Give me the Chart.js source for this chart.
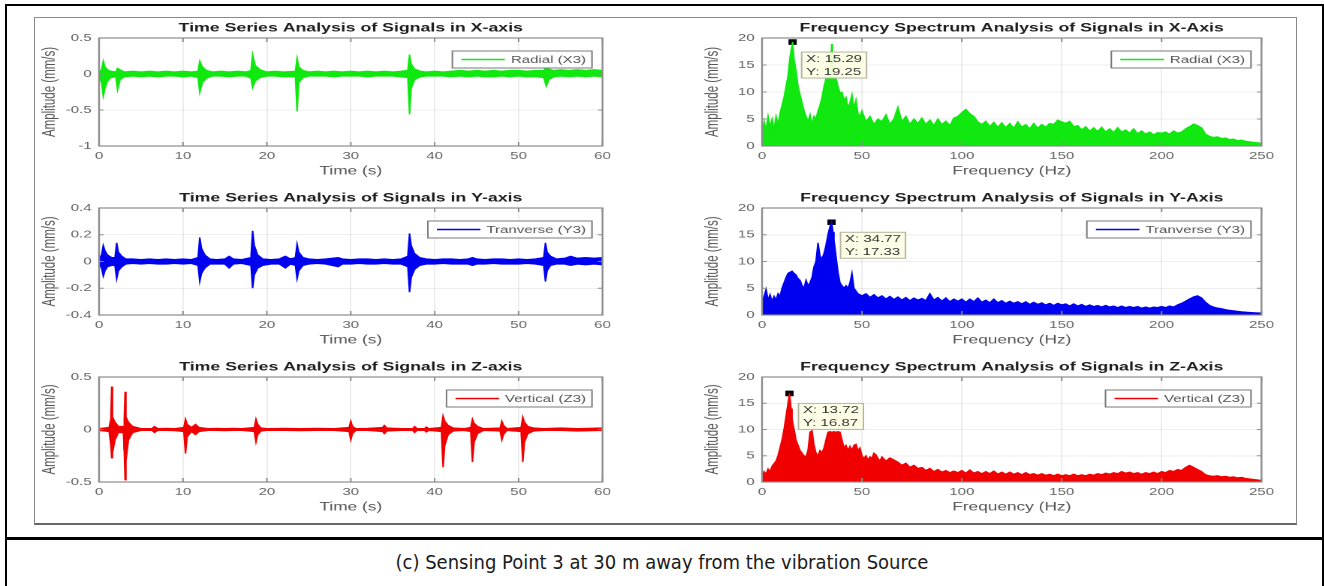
<!DOCTYPE html>
<html>
<head>
<meta charset="utf-8">
<script src="https://cdn.jsdelivr.net/npm/chart.js@4.4.1/dist/chart.umd.min.js"></script>
<style>
  html, body { margin: 0; padding: 0; background: #fff; }
  body { width: 1324px; height: 586px; position: relative; overflow: hidden; }
  .rule { position: absolute; background: #000; }
  #figure { position: absolute; left: 34px; top: 17px; width: 1261px; height: 505px;
            border: 1px solid #8a8a8a; border-bottom: 2px solid #666; }
  .panel { position: absolute; }
  #caption { position: absolute; left: 0; top: 550px; width: 1324px; text-align: center;
             font: 20px "Liberation Sans Narrow", "DejaVu Sans Condensed", sans-serif; color: #1a1a1a; }
</style>
</head>
<body>
<div class="rule" style="left:5px;top:4px;width:1319px;height:2px"></div>
<div class="rule" style="left:5px;top:4px;width:2px;height:582px"></div>
<div class="rule" style="left:1322px;top:4px;width:2px;height:582px"></div>
<div class="rule" style="left:5px;top:537px;width:1319px;height:3px"></div>
<div id="figure"></div>
<canvas id="tsX" class="panel"></canvas>
<canvas id="fsX" class="panel"></canvas>
<canvas id="tsY" class="panel"></canvas>
<canvas id="fsY" class="panel"></canvas>
<canvas id="tsZ" class="panel"></canvas>
<canvas id="fsZ" class="panel"></canvas>
<div id="caption">(c) Sensing Point 3 at 30 m away from the vibration Source</div>

<script>
// ============== Data ==============
// time series envelopes: [time s, max, min]
const radialTime = [
  [0, 0.03, -0.04], [0.3, 0.06, -0.12], [0.5, 0.18, -0.31], [0.7, 0.1, -0.2], [1.0, 0.06, -0.1],
  [1.4, 0.04, -0.05], [2.0, 0.03, -0.04], [2.2, 0.08, -0.22], [2.5, 0.06, -0.08], [3.0, 0.03, -0.04],
  [4, 0.04, -0.03], [5, 0.03, -0.04], [6, 0.04, -0.03], [7, 0.03, -0.04], [8, 0.04, -0.03],
  [9, 0.03, -0.03], [10, 0.04, -0.04], [11, 0.03, -0.03], [11.8, 0.04, -0.05], [12.0, 0.18, -0.26],
  [12.3, 0.1, -0.12], [12.8, 0.05, -0.06], [13.5, 0.03, -0.03], [14.5, 0.04, -0.03], [15.5, 0.03, -0.04],
  [16.5, 0.04, -0.03], [17.5, 0.03, -0.03], [18.1, 0.05, -0.06], [18.3, 0.27, -0.19], [18.6, 0.12, -0.1],
  [19.2, 0.06, -0.05], [20, 0.03, -0.03], [21, 0.04, -0.03], [22, 0.03, -0.04], [23.4, 0.04, -0.04],
  [23.6, 0.22, -0.52], [23.8, 0.1, -0.12], [24.3, 0.05, -0.05], [25, 0.03, -0.03], [26, 0.04, -0.03],
  [27, 0.03, -0.03], [28, 0.04, -0.04], [29, 0.03, -0.03], [30, 0.04, -0.03], [31, 0.03, -0.03],
  [32, 0.04, -0.04], [33, 0.03, -0.03], [34, 0.04, -0.03], [35, 0.03, -0.03], [36, 0.04, -0.04],
  [36.8, 0.05, -0.05], [37.0, 0.27, -0.56], [37.2, 0.14, -0.2], [37.6, 0.07, -0.08], [38.3, 0.04, -0.04],
  [39, 0.03, -0.03], [40, 0.04, -0.03], [41, 0.03, -0.03], [42, 0.04, -0.04], [43, 0.05, -0.03],
  [44, 0.04, -0.04], [45, 0.05, -0.03], [46, 0.04, -0.04], [47, 0.05, -0.04], [48, 0.04, -0.03],
  [49, 0.05, -0.04], [50, 0.05, -0.03], [51, 0.04, -0.04], [52, 0.05, -0.04], [53.0, 0.05, -0.05],
  [53.3, 0.1, -0.17], [53.6, 0.07, -0.08], [54.2, 0.05, -0.04], [55, 0.06, -0.03], [56, 0.05, -0.04],
  [57, 0.06, -0.03], [58, 0.05, -0.04], [59, 0.06, -0.03], [60, 0.05, -0.04]
];
const transverseTime = [
  [0, 0.02, -0.02], [0.3, 0.05, -0.05], [0.5, 0.12, -0.11], [0.7, 0.08, -0.07], [1.0, 0.05, -0.04],
  [1.5, 0.03, -0.03], [1.9, 0.03, -0.03], [2.1, 0.14, -0.13], [2.3, 0.07, -0.07], [2.7, 0.04, -0.04],
  [3.2, 0.02, -0.02], [4, 0.02, -0.015], [5, 0.015, -0.02], [6, 0.02, -0.015], [7, 0.015, -0.02],
  [8, 0.02, -0.02], [9, 0.015, -0.015], [10, 0.02, -0.02], [11, 0.015, -0.015], [11.8, 0.03, -0.03],
  [12.0, 0.18, -0.15], [12.2, 0.1, -0.09], [12.6, 0.05, -0.05], [13.2, 0.02, -0.02], [14, 0.015, -0.02],
  [15, 0.02, -0.02], [15.5, 0.04, -0.05], [16, 0.02, -0.02], [17, 0.015, -0.015], [18.1, 0.03, -0.03],
  [18.3, 0.23, -0.2], [18.5, 0.12, -0.1], [18.9, 0.05, -0.05], [19.5, 0.02, -0.03], [20.5, 0.015, -0.02],
  [21.5, 0.02, -0.02], [22.2, 0.04, -0.05], [22.8, 0.02, -0.02], [23.4, 0.03, -0.03], [23.6, 0.13, -0.13],
  [23.8, 0.07, -0.07], [24.3, 0.03, -0.03], [25, 0.02, -0.02], [26, 0.015, -0.015], [27, 0.02, -0.02],
  [28.5, 0.03, -0.04], [29, 0.02, -0.02], [30, 0.015, -0.02], [31, 0.02, -0.015], [32, 0.02, -0.02],
  [33, 0.015, -0.02], [34, 0.02, -0.015], [35, 0.015, -0.02], [36, 0.02, -0.02], [36.8, 0.04, -0.04],
  [37.0, 0.21, -0.23], [37.2, 0.12, -0.12], [37.6, 0.06, -0.06], [38.2, 0.03, -0.03], [39, 0.02, -0.02],
  [40, 0.015, -0.02], [41, 0.02, -0.015], [42, 0.02, -0.02], [43, 0.015, -0.02], [44, 0.02, -0.02],
  [44.5, 0.03, -0.03], [45, 0.02, -0.02], [46, 0.015, -0.02], [47, 0.02, -0.015], [48, 0.02, -0.02],
  [49, 0.015, -0.02], [50, 0.02, -0.02], [51, 0.015, -0.015], [52, 0.02, -0.02], [53.0, 0.03, -0.03],
  [53.2, 0.14, -0.15], [53.4, 0.07, -0.07], [53.8, 0.04, -0.03], [54.5, 0.02, -0.02], [55.5, 0.025, -0.02],
  [56.2, 0.04, -0.03], [57, 0.025, -0.02], [58, 0.03, -0.025], [59, 0.025, -0.02], [60, 0.03, -0.025]
];
const verticalTime = [
  [0, 0.01, -0.01], [1.2, 0.02, -0.02], [1.4, 0.1, -0.15], [1.5, 0.41, -0.27], [1.6, 0.12, -0.22],
  [1.9, 0.07, -0.1], [2.3, 0.03, -0.03], [2.9, 0.03, -0.03], [3.0, 0.1, -0.2], [3.1, 0.36, -0.48],
  [3.2, 0.12, -0.3], [3.5, 0.07, -0.1], [4.0, 0.03, -0.03], [5, 0.01, -0.01], [6.3, 0.01, -0.01],
  [6.6, 0.03, -0.03], [7, 0.01, -0.01], [8, 0.012, -0.01], [9, 0.01, -0.012], [10.1, 0.02, -0.02],
  [10.3, 0.1, -0.23], [10.5, 0.05, -0.07], [11, 0.02, -0.02], [11.5, 0.05, -0.05], [11.9, 0.02, -0.02],
  [13, 0.01, -0.01], [14, 0.012, -0.01], [15, 0.01, -0.012], [16, 0.012, -0.01], [17, 0.01, -0.01],
  [18.5, 0.02, -0.02], [18.7, 0.1, -0.12], [18.9, 0.05, -0.05], [19.3, 0.015, -0.015], [20, 0.01, -0.01],
  [22, 0.012, -0.01], [24, 0.01, -0.012], [26, 0.012, -0.01], [28, 0.01, -0.01], [29.8, 0.02, -0.02],
  [30.0, 0.08, -0.1], [30.2, 0.03, -0.04], [30.6, 0.01, -0.01], [32, 0.012, -0.01], [33.8, 0.02, -0.02],
  [34.0, 0.04, -0.04], [34.3, 0.015, -0.015], [36, 0.01, -0.01], [37.4, 0.01, -0.01], [37.6, 0.03, -0.03],
  [37.9, 0.01, -0.01], [38.8, 0.01, -0.01], [39.0, 0.025, -0.025], [39.3, 0.01, -0.01], [40.8, 0.02, -0.02],
  [41.0, 0.13, -0.36], [41.2, 0.08, -0.15], [41.6, 0.04, -0.05], [42.2, 0.015, -0.015], [43.5, 0.01, -0.01],
  [44.3, 0.02, -0.02], [44.5, 0.1, -0.31], [44.7, 0.06, -0.12], [45.1, 0.03, -0.04], [45.8, 0.01, -0.01],
  [47.8, 0.015, -0.015], [48.0, 0.08, -0.1], [48.2, 0.04, -0.05], [48.6, 0.01, -0.01], [50.3, 0.02, -0.02],
  [50.5, 0.12, -0.31], [50.7, 0.07, -0.12], [51.1, 0.03, -0.04], [51.8, 0.015, -0.015], [53, 0.01, -0.01],
  [55, 0.015, -0.01], [57, 0.01, -0.015], [60, 0.015, -0.01]
];

// spectrum upper envelopes: [frequency Hz, amplitude mm/s]
const radialSpectrum = [
  [0, 1.5], [1, 4.5], [2, 3], [3, 5.5], [4, 3.5], [5, 5], [6, 3], [7, 5.5], [8, 4], [9, 6],
  [10, 7.5], [11, 9], [12, 11], [13, 13], [14, 16.5], [15.29, 19.25], [16, 16], [17, 14], [18, 11], [19, 9.5],
  [20, 8], [21, 6.5], [22, 5.5], [23, 4.5], [24, 5.8], [25, 4], [26, 5.5], [27, 5], [28, 6.5], [29, 7.5],
  [30, 9], [31, 11], [32, 12.5], [33, 12.3], [34, 12.8], [34.9, 18.9], [35.2, 12.6], [36, 12.4], [37, 12.6], [38, 11],
  [39, 9.8], [40, 10], [41, 8.5], [42, 9], [43, 7], [44, 8], [45, 9.5], [46, 7], [47, 8.5], [48, 6],
  [49, 5.5], [50, 6.5], [52, 4.5], [54, 5.5], [56, 4], [58, 5], [60, 4.5], [62, 5.8], [64, 4], [66, 5],
  [68, 7.2], [70, 4.5], [72, 5.5], [74, 4], [76, 5], [78, 4.2], [80, 5.2], [82, 4], [84, 4.8], [86, 3.8],
  [88, 5], [90, 4], [92, 4.6], [94, 3.8], [96, 5.2], [98, 5.5], [100, 6.2], [102, 6.8], [104, 6], [106, 5.5],
  [108, 4.5], [110, 4], [112, 4.6], [114, 3.6], [116, 4.4], [118, 3.5], [120, 4.3], [122, 3.4], [124, 4.2], [126, 3.3],
  [128, 4.5], [130, 3.5], [132, 4], [134, 3.2], [136, 4.2], [138, 3.3], [140, 4], [142, 3.5], [144, 4.2], [146, 4],
  [148, 4.8], [150, 4.5], [152, 4.2], [154, 4.6], [156, 3.6], [158, 3.8], [160, 3], [162, 3.6], [164, 2.8], [166, 3.4],
  [168, 2.7], [170, 3.5], [172, 2.6], [174, 3.2], [176, 2.5], [178, 3.4], [180, 2.6], [182, 3], [184, 2.4], [186, 3.2],
  [188, 2.3], [190, 2.8], [192, 2.2], [194, 2.6], [196, 2.1], [198, 2.5], [200, 2.4], [202, 2.6], [204, 2.2], [206, 2.8],
  [208, 2.4], [210, 2.6], [212, 3.2], [214, 3.6], [216, 4.1], [218, 3.8], [220, 3.4], [222, 2.2], [224, 1.8], [226, 1.6],
  [228, 1.7], [230, 1.4], [232, 1.5], [234, 1.2], [236, 1.3], [238, 1], [240, 1.1], [242, 0.9], [244, 0.8], [246, 0.7],
  [248, 0.6], [250, 0.5]
];
const transverseSpectrum = [
  [0, 2], [1, 3.5], [2, 4.8], [3, 2.8], [4, 3.8], [5, 2.5], [6, 3.5], [7, 2.8], [8, 4], [9, 3.5],
  [10, 5], [11, 6], [12, 7], [13, 7.8], [14, 8], [15, 8.2], [16, 7.8], [17, 7.5], [18, 6.8], [19, 6.5],
  [20, 5.5], [21, 5], [22, 6.5], [23, 5.5], [24, 6], [25, 7], [26, 9], [27, 10], [28, 13.5], [29, 11],
  [30, 10.5], [31, 11.5], [32, 13], [33, 15], [34, 16.5], [34.77, 17.33], [35.5, 15.5], [36, 14], [37, 11], [38, 8],
  [39, 6], [40, 5.5], [41, 5], [42, 5.5], [43, 5], [44, 6], [45, 7.8], [46, 5], [47, 4.5], [48, 4],
  [50, 3.6], [52, 4], [54, 3.3], [56, 3.8], [58, 3.2], [60, 3.6], [62, 3], [64, 3.5], [66, 2.9], [68, 3.4],
  [70, 2.8], [72, 3.3], [74, 2.7], [76, 3.2], [78, 2.8], [80, 3.1], [82, 2.7], [84, 4], [86, 2.8], [88, 3.3],
  [90, 2.6], [92, 3.2], [94, 2.5], [96, 3], [98, 2.6], [100, 3], [102, 2.4], [104, 3], [106, 2.5], [108, 3.2],
  [110, 2.4], [112, 2.8], [114, 2.3], [116, 3], [118, 2.3], [120, 2.7], [122, 2.2], [124, 2.6], [126, 2.2], [128, 2.5],
  [130, 2.1], [132, 2.5], [134, 2], [136, 2.4], [138, 2], [140, 2.3], [142, 1.9], [144, 2.2], [146, 1.8], [148, 2.2],
  [150, 1.9], [152, 2.1], [154, 1.7], [156, 2.1], [158, 1.7], [160, 2], [162, 1.6], [164, 1.9], [166, 1.6], [168, 1.8],
  [170, 1.5], [172, 1.8], [174, 1.5], [176, 1.7], [178, 1.4], [180, 1.7], [182, 1.4], [184, 1.6], [186, 1.4], [188, 1.6],
  [190, 1.3], [192, 1.5], [194, 1.3], [196, 1.5], [198, 1.4], [200, 1.6], [202, 1.4], [204, 1.7], [206, 1.5], [208, 1.9],
  [210, 2.2], [212, 2.6], [214, 3], [216, 3.4], [218, 3.6], [220, 3.2], [222, 2.4], [224, 1.8], [226, 1.5], [228, 1.3],
  [230, 1.2], [232, 1], [234, 0.9], [236, 0.8], [238, 0.7], [240, 0.6], [244, 0.5], [248, 0.4], [250, 0.4]
];
const verticalSpectrum = [
  [0, 1], [1, 2], [2, 1.5], [3, 2.5], [4, 2], [5, 3], [6, 3.5], [7, 4], [8, 5], [9, 6.5],
  [10, 8], [11, 10], [12, 12.5], [13, 15], [13.72, 16.87], [14.5, 14], [15, 12], [16, 10], [17, 8], [18, 7],
  [19, 6], [20, 5.5], [21, 5], [22, 4.8], [23, 6], [24, 9.5], [25, 9.8], [26, 7], [27, 5.5], [28, 5],
  [29, 6], [30, 5.5], [31, 6.5], [32, 8], [33, 9.5], [34, 9.6], [35, 9.5], [36, 9.6], [37, 9.5], [38, 9.6],
  [39, 9.5], [40, 8], [41, 6.5], [42, 7], [43, 6], [44, 6.8], [45, 6], [46, 7], [47, 7.2], [48, 6],
  [49, 6.5], [50, 5], [51, 4.5], [52, 5], [53, 4.2], [54, 4.8], [55, 4.5], [56, 5.5], [57, 5.2], [58, 4.5],
  [59, 4], [60, 4.8], [62, 4], [64, 4.6], [66, 4.2], [68, 3.8], [70, 3.2], [72, 3.6], [74, 2.8], [76, 3.2],
  [78, 2.6], [80, 2.8], [82, 2.2], [84, 2.6], [86, 2], [88, 2.4], [90, 1.9], [92, 2.2], [94, 1.8], [96, 2.1],
  [98, 1.8], [100, 2.2], [102, 1.7], [104, 2.3], [106, 1.7], [108, 2], [110, 1.6], [112, 2], [114, 1.6], [116, 2.1],
  [118, 1.5], [120, 1.9], [122, 1.5], [124, 1.9], [126, 1.5], [128, 1.8], [130, 1.4], [132, 1.8], [134, 1.4], [136, 1.6],
  [138, 1.3], [140, 1.6], [142, 1.3], [144, 1.5], [146, 1.2], [148, 1.5], [150, 1.2], [152, 1.4], [154, 1.2], [156, 1.5],
  [158, 1.2], [160, 1.4], [162, 1.2], [164, 1.5], [166, 1.3], [168, 1.6], [170, 1.4], [172, 1.7], [174, 1.5], [176, 1.8],
  [178, 1.6], [180, 2], [182, 1.7], [184, 1.9], [186, 1.6], [188, 1.8], [190, 1.5], [192, 1.8], [194, 1.6], [196, 1.9],
  [198, 1.6], [200, 2], [202, 1.8], [204, 2.2], [206, 2], [208, 2.4], [210, 2.2], [212, 2.8], [214, 3.2], [216, 2.8],
  [218, 2.4], [220, 2], [222, 1.4], [224, 1.2], [226, 1.1], [228, 1.2], [230, 1], [232, 1.1], [234, 0.9], [236, 1],
  [238, 0.8], [240, 0.9], [242, 0.7], [244, 0.6], [246, 0.5], [248, 0.4], [250, 0.3]
];

// data tips (peak markers)
const tipFreq = [15.29, 34.77, 13.72];
const tipAmp = [19.25, 17.33, 16.87];

// tick labels
const timeTicks = [0, 10, 20, 30, 40, 50, 60];
const freqTicks = [0, 50, 100, 150, 200, 250];
const ampTicksX = [-1, -0.5, 0, 0.5];
const ampTicksY = [-0.4, -0.2, 0, 0.2, 0.4];
const ampTicksZ = [-0.5, 0, 0.5];
const spectrumTicks = [0, 5, 10, 15, 20];

// ============== Layout ==============
const FONT = '"Liberation Sans", Arial, Helvetica, sans-serif';
const SX = 1.5;           // the original figure is stretched horizontally
const Y_AXIS_W = 48;      // logical px
const X_AXIS_H = 42;
const TOP_PAD = 24;
const COLS = [{ left: 99, width: 503 }, { left: 762, width: 502 }];
const ROWS = [{ top: 38, height: 108 }, { top: 208, height: 107 }, { top: 377, height: 105 }];

// ============== Decorations plugin: box, title, legend, data tip ==============
const figureDecor = {
  id: "figureDecor",
  afterDatasetsDraw(chart, args, opts) {
    const { ctx, chartArea: a, scales } = chart;
    ctx.save();

    // inward tick marks + axes box
    ctx.strokeStyle = "#8c8c8c";
    ctx.lineWidth = 1;
    ctx.beginPath();
    scales.x.ticks.forEach(t => {
      const px = scales.x.getPixelForValue(t.value);
      ctx.moveTo(px, a.top); ctx.lineTo(px, a.top + 4);
      ctx.moveTo(px, a.bottom); ctx.lineTo(px, a.bottom - 4);
    });
    scales.y.ticks.forEach(t => {
      const py = scales.y.getPixelForValue(t.value);
      ctx.moveTo(a.left, py); ctx.lineTo(a.left + 3, py);
      ctx.moveTo(a.right, py); ctx.lineTo(a.right - 3, py);
    });
    ctx.stroke();
    ctx.lineWidth = 1.2;
    ctx.strokeRect(a.left, a.top, a.right - a.left, a.bottom - a.top);

    // title
    ctx.fillStyle = "#1e1e1e";
    ctx.font = "bold 11.8px " + FONT;
    ctx.textAlign = "center";
    ctx.textBaseline = "middle";
    ctx.fillText(opts.title, (a.left + a.right) / 2, a.top - 10);

    // data tip
    if (opts.tip) {
      const px = scales.x.getPixelForValue(opts.tip[0]);
      const py = scales.y.getPixelForValue(opts.tip[1]);
      const lines = ["X: " + opts.tip[0].toFixed(2), "Y: " + opts.tip[1].toFixed(2)];
      ctx.font = "10px " + FONT;
      const tw = Math.max(...lines.map(l => ctx.measureText(l).width));
      const bx = px + 6, by = py + 10, bw = tw + 6, bh = 26;
      ctx.fillStyle = "rgba(255,255,228,0.9)";
      ctx.fillRect(bx, by, bw, bh);
      ctx.strokeStyle = "#b4b4a0";
      ctx.lineWidth = 1;
      ctx.strokeRect(bx, by, bw, bh);
      ctx.fillStyle = "#333";
      ctx.textAlign = "left";
      ctx.fillText(lines[0], bx + 3, by + 7);
      ctx.fillText(lines[1], bx + 3, by + 20);
    }

    // legend
    ctx.font = "10px " + FONT;
    const lw = ctx.measureText(opts.label).width;
    const bw = lw + 43, bh = 17;
    const bx = a.right - 7 - bw, by = a.top + 13;
    ctx.fillStyle = "#fff";
    ctx.fillRect(bx, by, bw, bh);
    ctx.strokeStyle = "#7a7a7a";
    ctx.lineWidth = 1;
    ctx.strokeRect(bx, by, bw, bh);
    ctx.strokeStyle = opts.color;
    ctx.lineWidth = 1.4;
    ctx.beginPath();
    ctx.moveTo(bx + 6, by + bh / 2);
    ctx.lineTo(bx + 35, by + bh / 2);
    ctx.stroke();
    ctx.fillStyle = "#555";
    ctx.textAlign = "left";
    ctx.textBaseline = "middle";
    ctx.fillText(opts.label, bx + 39, by + bh / 2 + 0.5);

    ctx.restore();
  }
};

// ============== Builders ==============
function placeCanvas(canvas, col, row) {
  const w = Math.round((72 + col.width + 15) / SX);
  const h = TOP_PAD + row.height + X_AXIS_H;
  canvas.width = w;
  canvas.height = h;
  canvas.style.left = (col.left - Y_AXIS_W * SX) + "px";
  canvas.style.top = (row.top - TOP_PAD) + "px";
  canvas.style.width = (w * SX) + "px";
  canvas.style.height = h + "px";
  return w - Y_AXIS_W - col.width / SX;
}

function axis(min, max, ticks, title, isX) {
  return {
    type: "linear",
    min, max,
    afterBuildTicks: s => { s.ticks = ticks.map(v => ({ value: v })); },
    afterFit: s => { if (isX) s.height = X_AXIS_H; else s.width = Y_AXIS_W; },
    grid: { color: "rgba(0,0,0,0.09)", lineWidth: 0.8, drawTicks: false },
    border: { display: false },
    ticks: {
      color: "#666", font: { family: FONT, size: 10 }, padding: isX ? 4 : 5,
      maxRotation: 0, autoSkip: false, callback: v => String(v)
    },
    title: {
      display: true, text: title, color: "#555",
      font: { family: FONT, size: 11.5 },
      padding: isX ? { top: 0, bottom: 10 } : { top: 8.4, bottom: 0 }
    }
  };
}

function makePanel(id, col, row, datasets, xAxis, yAxis, decor) {
  const canvas = document.getElementById(id);
  const padRight = placeCanvas(canvas, col, row);
  return new Chart(canvas, {
    type: "line",
    data: { datasets },
    options: {
      responsive: false,
      animation: false,
      devicePixelRatio: 2,
      events: [],
      layout: { padding: { top: TOP_PAD, right: padRight, left: 0, bottom: 0 } },
      elements: { line: { tension: 0, borderWidth: 1 }, point: { radius: 0 } },
      plugins: { legend: { display: false }, tooltip: { enabled: false }, figureDecor: decor },
      scales: { x: xAxis, y: yAxis }
    },
    plugins: [figureDecor]
  });
}

function envelope(rows, color) {
  return [
    { data: rows.map(r => ({ x: r[0], y: r[2] })), borderColor: color, backgroundColor: color, fill: false },
    { data: rows.map(r => ({ x: r[0], y: r[1] })), borderColor: color, backgroundColor: color, fill: "-1" }
  ];
}

function spectrum(rows, color, i) {
  return [
    { data: rows.map(r => ({ x: r[0], y: r[1] })), borderColor: color, backgroundColor: color, fill: "origin" },
    { data: [{ x: tipFreq[i], y: tipAmp[i] }], showLine: false, pointStyle: "rect",
      pointRadius: 3.2, backgroundColor: "#000", borderColor: "#000" }
  ];
}

const GREEN = "#10e810", BLUE = "#0000f0", RED = "#f00000";

// ============== Boot ==============
makePanel("tsX", COLS[0], ROWS[0], envelope(radialTime, GREEN),
  axis(0, 60, timeTicks, "Time (s)", true), axis(-1, 0.5, ampTicksX, "Amplitude (mm/s)", false),
  { title: "Time Series Analysis of Signals in X-axis", label: "Radial (X3)", color: GREEN });
makePanel("fsX", COLS[1], ROWS[0], spectrum(radialSpectrum, GREEN, 0),
  axis(0, 250, freqTicks, "Frequency (Hz)", true), axis(0, 20, spectrumTicks, "Amplitude (mm/s)", false),
  { title: "Frequency Spectrum Analysis of Signals in X-Axis", label: "Radial (X3)", color: GREEN,
    tip: [tipFreq[0], tipAmp[0]] });
makePanel("tsY", COLS[0], ROWS[1], envelope(transverseTime, BLUE),
  axis(0, 60, timeTicks, "Time (s)", true), axis(-0.4, 0.4, ampTicksY, "Amplitude (mm/s)", false),
  { title: "Time Series Analysis of Signals in Y-axis", label: "Tranverse (Y3)", color: BLUE });
makePanel("fsY", COLS[1], ROWS[1], spectrum(transverseSpectrum, BLUE, 1),
  axis(0, 250, freqTicks, "Frequency (Hz)", true), axis(0, 20, spectrumTicks, "Amplitude (mm/s)", false),
  { title: "Frequency Spectrum Analysis of Signals in Y-Axis", label: "Tranverse (Y3)", color: BLUE,
    tip: [tipFreq[1], tipAmp[1]] });
makePanel("tsZ", COLS[0], ROWS[2], envelope(verticalTime, RED),
  axis(0, 60, timeTicks, "Time (s)", true), axis(-0.5, 0.5, ampTicksZ, "Amplitude (mm/s)", false),
  { title: "Time Series Analysis of Signals in Z-axis", label: "Vertical (Z3)", color: RED });
makePanel("fsZ", COLS[1], ROWS[2], spectrum(verticalSpectrum, RED, 2),
  axis(0, 250, freqTicks, "Frequency (Hz)", true), axis(0, 20, spectrumTicks, "Amplitude (mm/s)", false),
  { title: "Frequency Spectrum Analysis of Signals in Z-Axis", label: "Vertical (Z3)", color: RED,
    tip: [tipFreq[2], tipAmp[2]] });
</script>
</body>
</html>
